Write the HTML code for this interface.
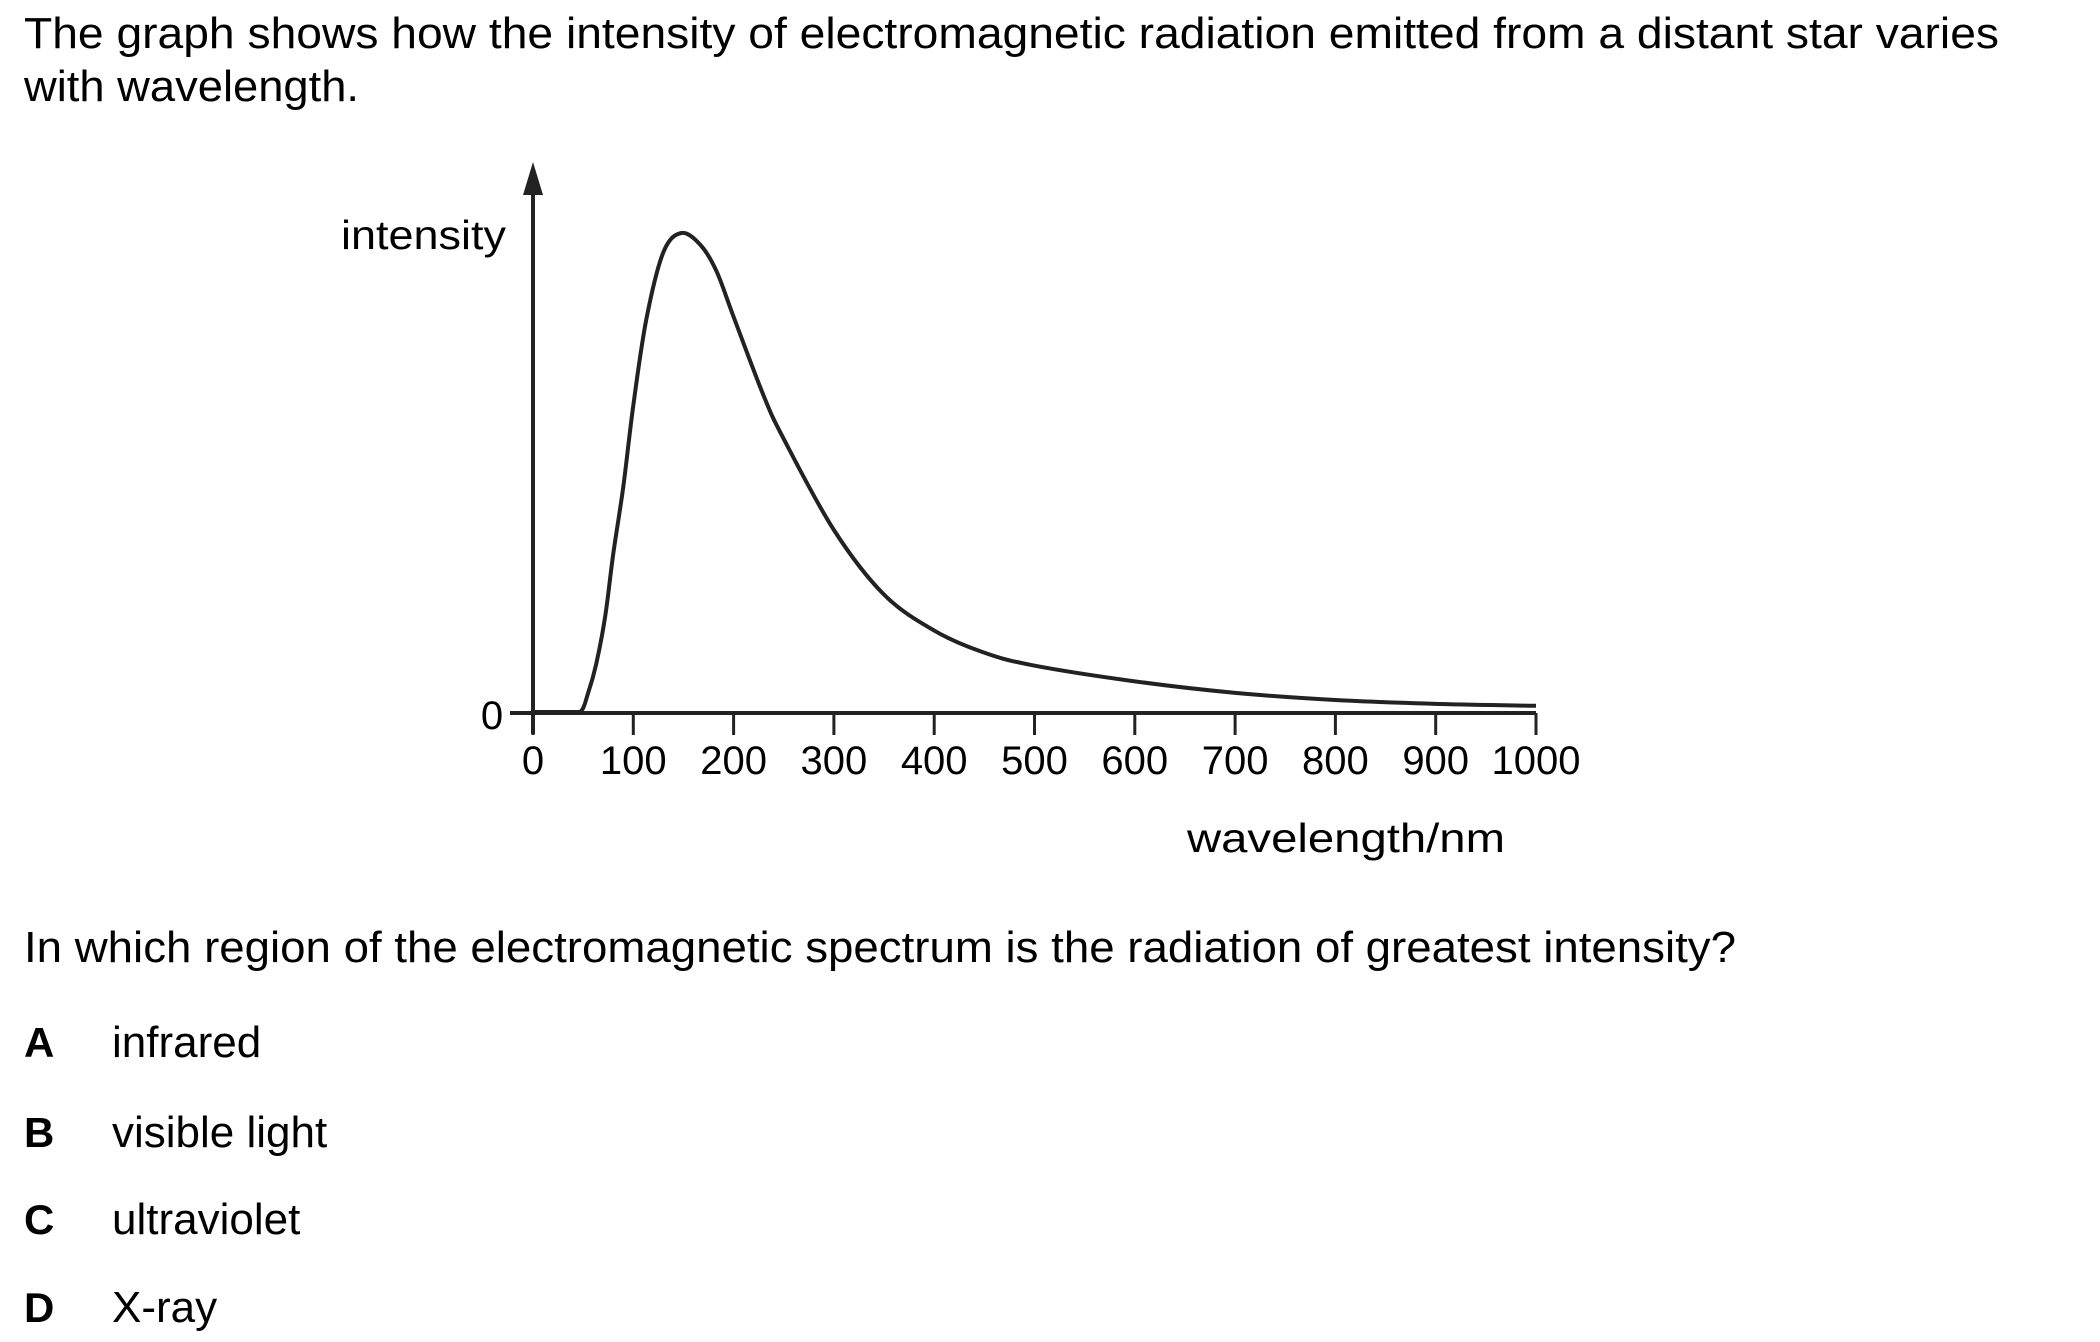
<!DOCTYPE html>
<html><head><meta charset="utf-8"><style>
html,body{margin:0;padding:0;background:#fff;}
svg{display:block;}
text{font-family:"Liberation Sans",Arial,sans-serif;fill:#000;}
</style></head><body>
<svg id="root" width="2100" height="1342" viewBox="0 0 2100 1342">
<text x="24" y="48" font-size="44" textLength="1975" lengthAdjust="spacingAndGlyphs">The graph shows how the intensity of electromagnetic radiation emitted from a distant star varies</text>
<text x="24" y="101" font-size="44" textLength="335" lengthAdjust="spacingAndGlyphs">with wavelength.</text>
<g id="chart">
<text x="341" y="249" font-size="41" textLength="165" lengthAdjust="spacingAndGlyphs">intensity</text>
<text x="492" y="729" font-size="40" text-anchor="middle">0</text>
<text x="1346" y="852" font-size="41" text-anchor="middle" textLength="318" lengthAdjust="spacingAndGlyphs">wavelength/nm</text>
</g>
<text x="24" y="962" font-size="44" textLength="1712" lengthAdjust="spacingAndGlyphs">In which region of the electromagnetic spectrum is the radiation of greatest intensity?</text>
<g><text x="24" y="1057" font-size="42" font-weight="bold">A</text><text x="112" y="1057" font-size="44">infrared</text></g>
<g><text x="24" y="1147" font-size="42" font-weight="bold">B</text><text x="112" y="1147" font-size="44">visible light</text></g>
<g><text x="24" y="1234" font-size="42" font-weight="bold">C</text><text x="112" y="1234" font-size="44">ultraviolet</text></g>
<g><text x="24" y="1322" font-size="42" font-weight="bold">D</text><text x="112" y="1322" font-size="44">X-ray</text></g>
</svg>
<script>
const wavelengths=[0,30,47,55,63,72,80,90,100,113,130,148,167,183,200,230,250,300,350,400,447,497,600,700,800,900,1000];
const intensities=[0,0,0,0.04,0.10,0.20,0.33,0.47,0.64,0.82,0.96,1.0,0.975,0.92,0.825,0.66,0.57,0.38,0.245,0.17,0.126,0.098,0.064,0.04,0.025,0.017,0.013];
const xTicks=[0,100,200,300,400,500,600,700,800,900,1000];
const X0=533,X1=1536,Y0=712,Y1=233;
function xs(v){return X0+(v-0)/1000*(X1-X0);}
function ys(v){return Y0-v*(Y0-Y1);}
const NS='http://www.w3.org/2000/svg';
const chart=document.getElementById('chart');
function mk(t,a){const e=document.createElementNS(NS,t);for(const k in a)e.setAttribute(k,a[k]);chart.appendChild(e);return e;}
let e;
e=mk('line',{x1:X0,y1:Y0+22,x2:X0,y2:192,stroke:'#222','stroke-width':4});


e=mk('polygon',{points:`${X0},162 ${X0-10},195 ${X0+10},195`,fill:'#222'});


e=mk('line',{x1:510,y1:713,x2:X1,y2:713,stroke:'#222','stroke-width':4});


for(const t of xTicks){
 e=mk('line',{x1:xs(t),y1:713,x2:xs(t),y2:735,stroke:'#222','stroke-width':3});
 
 
 e=mk('text',{x:xs(t),y:774,'font-size':40,'text-anchor':'middle'});
 e.textContent=String(t);
 
 
}
const pts=wavelengths.map((w,i)=>[xs(w),ys(intensities[i])]);
let d=`M${pts[0][0]},${pts[0][1]}`;
for(let i=0;i<pts.length-1;i++){
 const p0=pts[Math.max(0,i-1)],p1=pts[i],p2=pts[i+1],p3=pts[Math.min(pts.length-1,i+2)];
 let c1=[p1[0]+(p2[0]-p0[0])/6,p1[1]+(p2[1]-p0[1])/6];
 let c2=[p2[0]-(p3[0]-p1[0])/6,p2[1]-(p3[1]-p1[1])/6];
 c1[1]=Math.min(c1[1],Y0);c2[1]=Math.min(c2[1],Y0);
 d+=` C${c1[0]},${c1[1]} ${c2[0]},${c2[1]} ${p2[0]},${p2[1]}`;
}
e=mk('path',{d:d,fill:'none',stroke:'#222','stroke-width':4,'stroke-linejoin':'round'});


</script>
</body></html>
